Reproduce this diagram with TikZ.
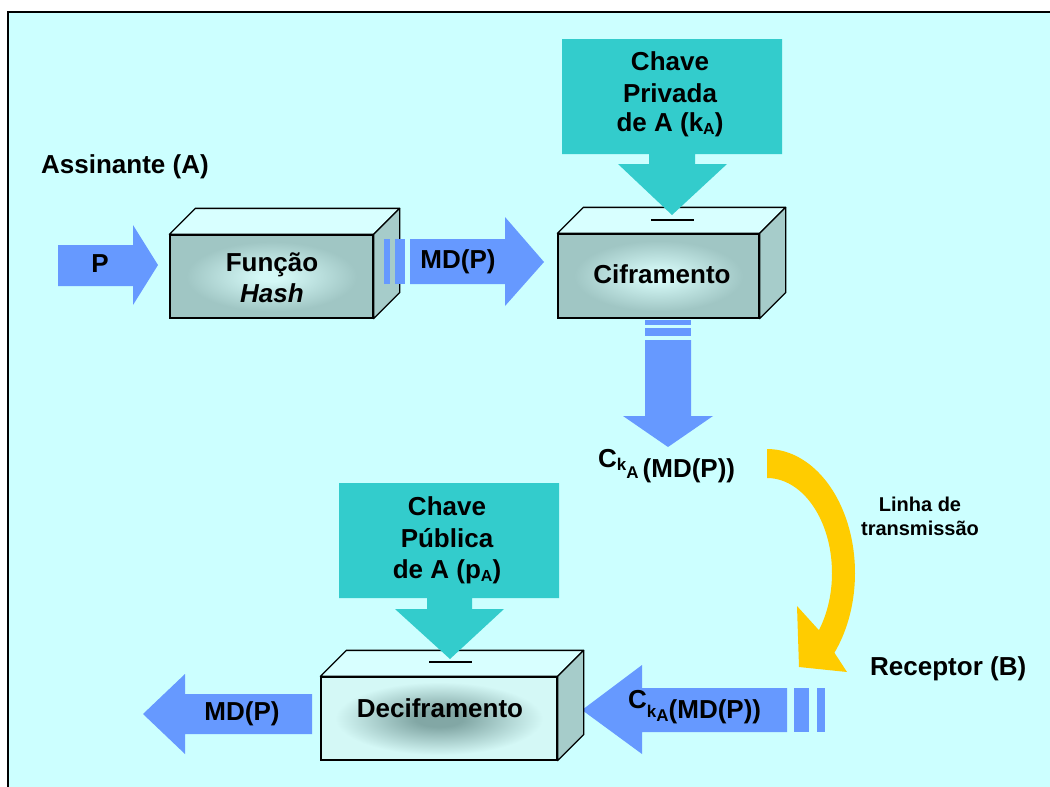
\documentclass[tikz,border=0pt]{standalone}
\usepackage{fontspec}
\setmainfont{Liberation Sans}
\usetikzlibrary{calc}

\definecolor{paper}{HTML}{CCFFFF}
\definecolor{flow}{HTML}{6699FF}
\definecolor{keycol}{HTML}{33CCCC}
\definecolor{link}{HTML}{FFCC00}
\definecolor{boxtop}{HTML}{D8FFFF}
\definecolor{boxside}{HTML}{A6CCCA}
\definecolor{boxdark}{HTML}{A0C6C4}
\definecolor{boxlight}{HTML}{D4F8F6}
\definecolor{boxdeep}{HTML}{82A7A5}

% lit centre for the hashing and ciphering crates, dim centre for the deciphering crate
\pgfdeclareradialshading{glowcenter}{\pgfpoint{0bp}{0bp}}{color(0bp)=(boxlight); color(3bp)=(boxlight); color(21bp)=(boxdark); color(50bp)=(boxdark)}
\pgfdeclareradialshading{shadowcenter}{\pgfpoint{0bp}{0bp}}{color(0bp)=(boxdeep); color(5bp)=(boxdeep); color(22bp)=(boxlight); color(50bp)=(boxlight)}

\tikzset{
  face/.style={draw, line width=1.3pt, inner sep=0pt, shade},
  topface/.style={fill=boxtop, draw, line width=1.3pt, line join=round},
  sideface/.style={fill=boxside, draw, line width=1.3pt, line join=round},
  slot/.style={line width=1.3pt},
  lbl/.style={font=\bfseries\fontsize{26}{31}\selectfont, inner sep=0pt, anchor=base},
  smalllbl/.style={font=\bfseries\fontsize{20}{24}\selectfont, inner sep=0pt, anchor=base},
}

% top and right faces of a crate whose front face is node #1
\newcommand\crateside[1]{%
  \filldraw[topface] (#1.north west) -- ++(26,-26) -- ([shift={(26,-26)}]#1.north east) -- (#1.north east) -- cycle;
  \filldraw[sideface] (#1.north east) -- ++(26,-26) -- ([shift={(26,-26)}]#1.south east) -- (#1.south east) -- cycle;}

\newcommand\subA{\raisebox{-3pt}{\fontsize{16}{16}\selectfont A}}

\begin{document}
\begin{tikzpicture}[x=1pt,y=-1pt]
\useasboundingbox (0,0) rectangle (1050,787);
\fill[white] (0,0) rectangle (1050,787);
\fill[paper] (8,12) rectangle (1062,800);
\draw[line width=2pt] (8,800) -- (8,12) -- (1062,12);

% ---- flow arrows (blue) ----
\fill[flow] (58,245) -- (133,245) -- (133,225) -- (158,265) -- (133,305) -- (133,286) -- (58,286) -- cycle;
\fill[flow] (410,239) -- (505,239) -- (505,217) -- (544,262) -- (505,306) -- (505,284) -- (410,284) -- cycle;
\fill[flow] (645,340) -- (645,416) -- (623,416) -- (668,447) -- (713,416) -- (691,416) -- (691,340) -- cycle;
\fill[flow] (312,694) -- (185,694) -- (185,674) -- (143,714) -- (185,754) -- (185,734) -- (312,734) -- cycle;
\fill[flow] (787,688) -- (642,688) -- (642,665) -- (582,710) -- (642,754) -- (642,732) -- (787,732) -- cycle;
\fill[flow] (794,688) rectangle (809,732);
\fill[flow] (817,688) rectangle (825,732);

% ---- transmission line (yellow curved arrow) ----
\fill[link] plot[domain=-90:40, samples=60] ({767+88*cos(\x)},{573+124*sin(\x)})
  -- (847,672) -- (799,667) -- (797,606)
  -- plot[domain=37:-90, samples=60] ({767+65*cos(\x)},{573+95*sin(\x)}) -- cycle;

% ---- crates ----
\node[face, shading=glowcenter, minimum width=203pt, minimum height=83pt] (hash) at (271.5,276.5) {};
\crateside{hash}
\node[face, shading=glowcenter, minimum width=201pt, minimum height=84pt] (cipher) at (658.5,276) {};
\crateside{cipher}
\node[face, shading=shadowcenter, minimum width=236pt, minimum height=83pt] (decipher) at (439,718.5) {};
\crateside{decipher}

% stripes leaving the crates (in front of them)
\fill[flow] (384,239) rectangle (390,284);
\fill[flow] (395,239) rectangle (405,284);
\fill[flow] (645,320) rectangle (691,325);
\fill[flow] (645,328) rectangle (691,336);

% ---- key arrows (teal) ----
\fill[keycol] (562,39) -- (782,39) -- (782,154) -- (695,154) -- (695,164) -- (727,164) -- (672,215)
  -- (618,164) -- (649,164) -- (649,154) -- (562,154) -- cycle;
\fill[keycol] (339,483) -- (559,483) -- (559,598) -- (472,598) -- (472,609) -- (504,609) -- (450,659)
  -- (395,609) -- (427,609) -- (427,598) -- (339,598) -- cycle;
\draw[slot] (651,220) -- (694,220);
\draw[slot] (429,662) -- (472,662);

% ---- texts ----
\node[lbl, anchor=base west] (signer) at (41,173) {Assinante (A)};
\node[lbl] (plain) at (100,272) {P};
\node[lbl] (hashA) at (272,271) {Função};
\node[lbl] (hashB) at (272,302) {\itshape Hash};
\node[lbl] (digest) at (458,268) {MD(P)};
\node[lbl] (cipherlbl) at (662,283) {Ciframento};
\node[lbl] (privA) at (670,70) {Chave};
\node[lbl] (privB) at (670,102) {Privada};
\node[lbl] (privC) at (670,131) {de A (k\subA)};
\node[lbl, anchor=base west] (signed) at (598,477)
  {\raisebox{10pt}{C}\raisebox{7pt}{\fontsize{17}{17}\selectfont k}\raisebox{-1pt}{\fontsize{17}{17}\selectfont A}\hspace{4pt}(MD(P))};
\node[smalllbl] (lineA) at (920,511) {Linha de};
\node[smalllbl] (lineB) at (920,535) {transmissão};
\node[lbl, anchor=base west] (receiver) at (870,675) {Receptor (B)};
\node[lbl] (pubA) at (447,515) {Chave};
\node[lbl] (pubB) at (447,547) {Pública};
\node[lbl] (pubC) at (447,578) {de A (p\subA)};
\node[lbl] (decipherlbl) at (440,717) {Deciframento};
\node[lbl] (result) at (242,720) {MD(P)};
\node[lbl, anchor=base west] (received) at (628,718)
  {\raisebox{10pt}{C}\raisebox{1pt}{\fontsize{17}{17}\selectfont k}\raisebox{-3pt}{\fontsize{17}{17}\selectfont A}(MD(P))};
\end{tikzpicture}
\end{document}
